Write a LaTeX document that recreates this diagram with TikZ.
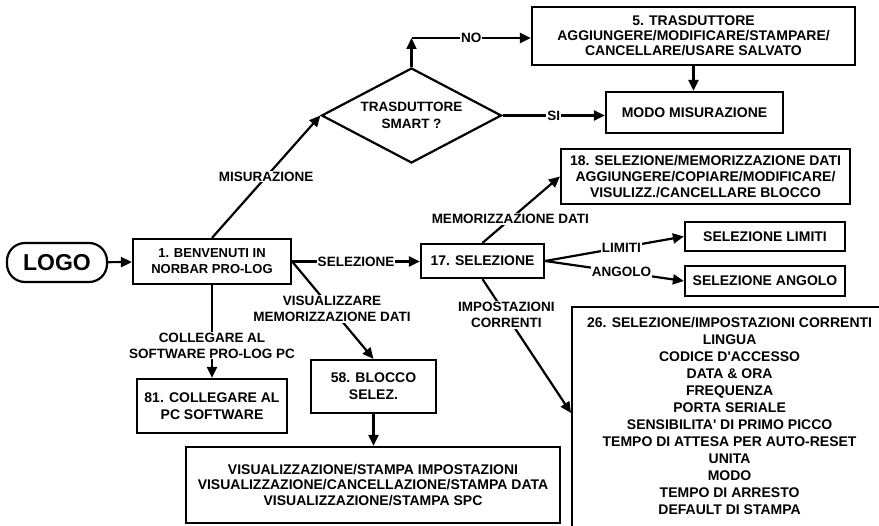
\documentclass[tikz,border=0pt]{standalone}
\usepackage{fontspec}
\setmainfont{Liberation Sans}
\usetikzlibrary{arrows.meta,shapes.geometric}

\tikzstyle{block} = [rectangle, draw, line width=2.2pt, inner sep=0pt, align=center, font=\bfseries\fontsize{14}{16}\selectfont]
\tikzstyle{lbl} = [fill=white, inner sep=1pt, align=center, font=\bfseries\fontsize{13.5}{16}\selectfont]
\tikzstyle{link} = [draw, line width=2.2pt]
\tikzstyle{flow} = [link, -{Triangle[length=11pt,width=10pt]}]

\begin{document}
\begin{tikzpicture}[x=1pt,y=-1pt]
        \useasboundingbox (0,0) rectangle (879,526);
        \clip (0,0) rectangle (879,526);
        % Start and main menu
        \node (logo) at (57,262.5) [block, rounded corners=18pt, minimum width=100pt, minimum height=39pt, font=\bfseries\fontsize{23}{26}\selectfont] {LOGO};
        \node (n1) at (212,261.5) [block, minimum width=158pt, minimum height=45pt, font=\bfseries\fontsize{13}{16}\selectfont] {1. BENVENUTI IN\\NORBAR PRO-LOG};
        % Measuring branch
        \node (dia) at (411.5,115.5) [diamond, draw, line width=2.2pt, aspect=1.9, minimum width=180pt, minimum height=95pt, inner sep=0pt, align=center, font=\bfseries\fontsize{13.5}{17}\selectfont] {TRASDUTTORE\\SMART ?};
        \coordinate (up) at (411.5,38);
        \node (n5) at (693.5,36) [block, minimum width=323pt, minimum height=58pt, font=\bfseries\fontsize{14}{15}\selectfont] {5. TRASDUTTORE\\AGGIUNGERE/MODIFICARE/STAMPARE/\\CANCELLARE/USARE SALVATO};
        \node (modo) at (694.5,112.5) [block, minimum width=177pt, minimum height=41pt] {MODO MISURAZIONE};
        % Selection branch
        \node (n17) at (482.5,261) [block, minimum width=123pt, minimum height=34pt] {17. SELEZIONE};
        \node (n18) at (705.5,176.5) [block, minimum width=289pt, minimum height=55pt] {18. SELEZIONE/MEMORIZZAZIONE DATI\\AGGIUNGERE/COPIARE/MODIFICARE/\\VISULIZZ./CANCELLARE BLOCCO};
        \node (limiti) at (765,236.5) [block, minimum width=160pt, minimum height=29pt] {SELEZIONE LIMITI};
        \node (angolo) at (765,281) [block, minimum width=160pt, minimum height=30pt] {SELEZIONE ANGOLO};
        \node (n26) at (571,306) [block, anchor=north west, minimum width=315pt, minimum height=226pt, text depth=9pt, font=\bfseries\fontsize{14}{17}\selectfont] {26. SELEZIONE/IMPOSTAZIONI CORRENTI\\LINGUA\\CODICE D\textquotesingle ACCESSO\\DATA \& ORA\\FREQUENZA\\PORTA SERIALE\\SENSIBILITA\textquotesingle{} DI PRIMO PICCO\\TEMPO DI ATTESA PER AUTO-RESET\\UNITA\\MODO\\TEMPO DI ARRESTO\\DEFAULT DI STAMPA};
        % PC and stored data
        \node (n81) at (212,406) [block, minimum width=150pt, minimum height=54pt, font=\bfseries\fontsize{14}{17}\selectfont] {81. COLLEGARE AL\\PC SOFTWARE};
        \node (n58) at (373.5,386.5) [block, minimum width=125pt, minimum height=53pt, font=\bfseries\fontsize{14}{17}\selectfont] {58. BLOCCO\\SELEZ.};
        \node (view) at (373,485) [block, minimum width=374pt, minimum height=76pt, font=\bfseries\fontsize{14}{15.5}\selectfont] {VISUALIZZAZIONE/STAMPA IMPOSTAZIONI\\VISUALIZZAZIONE/CANCELLAZIONE/STAMPA DATA\\VISUALIZZAZIONE/STAMPA SPC};

        % Connectors
        \draw[flow] (logo) -- (n1);
        \draw[flow] (n1.north) -- node[lbl, pos=0.5] {MISURAZIONE} (dia.west);
        \draw[flow] (dia.north) -- (up);
        \draw[flow] (up) -- node[lbl] {NO} (up -| n5.west);
        \draw[flow] (dia.east) -- node[lbl] {SI} (dia.east -| modo.west);
        \draw[flow] (n5.south) -- (n5.south |- modo.north);
        \draw[flow] (n1.east) -- node[lbl] {SELEZIONE} (n1.east -| n17.west);
        \draw[flow] (n1.south) -- node[lbl, pos=0.65] {COLLEGARE AL\\SOFTWARE PRO-LOG PC} (n81.north);
        \draw[flow] (n1.east) -- node[lbl, pos=0.49] {VISUALIZZARE\\MEMORIZZAZIONE DATI} (n58.north);
        \draw[flow] (n58.south) -- (n58.south |- view.north);
        \draw[flow] (n17.north) -- node[lbl, pos=0.36] {MEMORIZZAZIONE DATI} (n18.west);
        \draw[flow] (n17.east) -- node[lbl, pos=0.55] {LIMITI} (limiti.west);
        \draw[flow] (n17.east) -- node[lbl, pos=0.55] {ANGOLO} (angolo.west);
        \draw[flow] (n17.south) -- node[lbl, pos=0.27] {IMPOSTAZIONI\\CORRENTI} ([yshift=-107pt]n26.north west);
\end{tikzpicture}
\end{document}
